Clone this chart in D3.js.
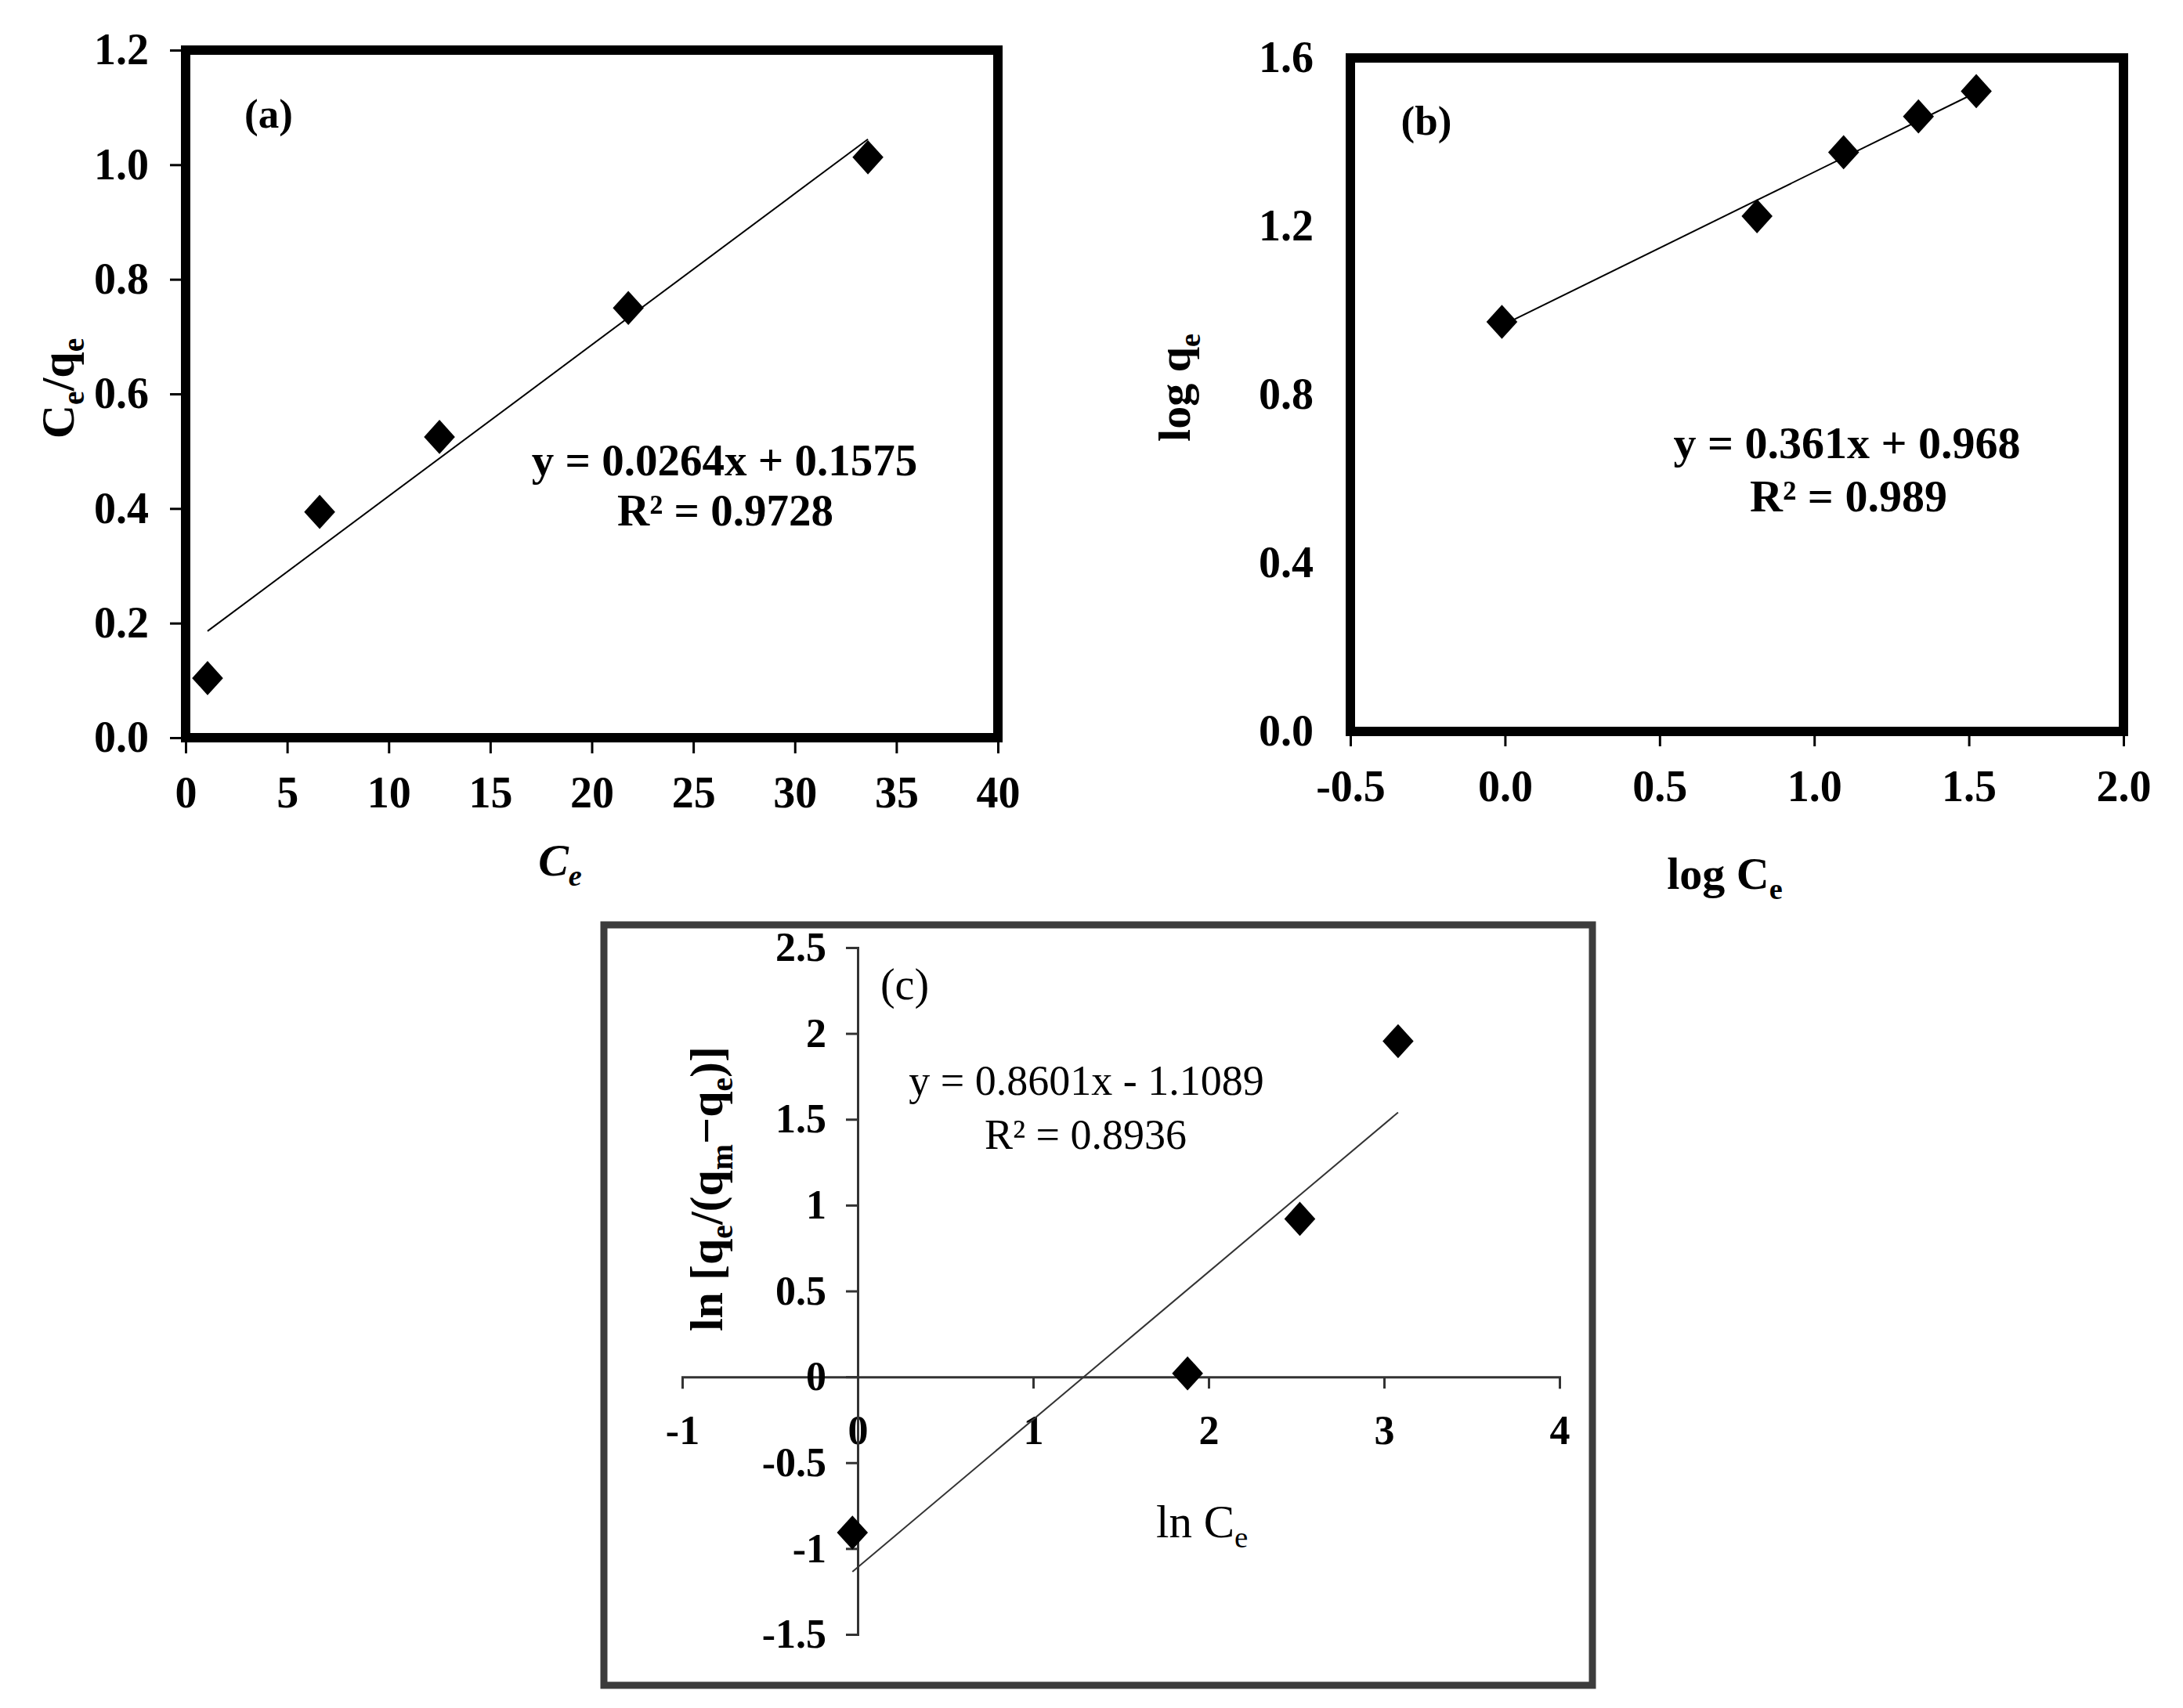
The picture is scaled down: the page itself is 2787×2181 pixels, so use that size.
<!DOCTYPE html>
<html>
<head>
<meta charset="utf-8">
<script src="https://cdn.jsdelivr.net/npm/d3@7"></script>
<style>
  body { margin: 0; background: #fff; }
</style>
</head>
<body>
<div class="chart"></div>
<script>
// (a) Langmuir plot: Ce vs Ce/qe
const ceA = [1.08, 6.6, 12.5, 21.8, 33.6];
const ceqeA = [0.104, 0.394, 0.525, 0.75, 1.013];
const fitA = {slope: 0.0264, intercept: 0.1575};
const eqA = ["y = 0.0264x + 0.1575", "R² = 0.9728"];
const xTicksA = [0, 5, 10, 15, 20, 25, 30, 35, 40];
const yTicksA = [0.0, 0.2, 0.4, 0.6, 0.8, 1.0, 1.2];

// (b) Freundlich plot: log Ce vs log qe
const logCeB = [-0.01, 0.815, 1.095, 1.337, 1.524];
const logQeB = [0.973, 1.224, 1.376, 1.461, 1.521];
const fitB = {slope: 0.361, intercept: 0.968};
const eqB = ["y = 0.361x + 0.968", "R² = 0.989"];
const xTicksB = [-0.5, 0.0, 0.5, 1.0, 1.5, 2.0];
const yTicksB = [0.0, 0.4, 0.8, 1.2, 1.6];

// (c) ln Ce vs ln[qe/(qm-qe)]
const lnCeC = [-0.03, 1.88, 2.52, 3.08];
const lnRatioC = [-0.907, 0.02, 0.92, 1.955];
const fitC = {slope: 0.8601, intercept: -1.1089};
const eqC = ["y = 0.8601x - 1.1089", "R² = 0.8936"];
const xTicksC = [-1, 0, 1, 2, 3, 4];
const yTicksC = [-1.5, -1, -0.5, 0, 0.5, 1, 1.5, 2, 2.5];

const W = 2787, H = 2181;
const serif = "'Liberation Serif', 'Times New Roman', serif";

const svg = d3.select('.chart').append('svg')
    .attr('width', W)
    .attr('height', H)
    .style('background', '#fff');

// diamond marker, a bit taller than wide like the original
const diamond = {
  draw(ctx, size) {
    const r = Math.sqrt(size) / 2;
    ctx.moveTo(0, -r * 1.06);
    ctx.lineTo(r * 0.96, 0);
    ctx.lineTo(0, r * 1.06);
    ctx.lineTo(-r * 0.96, 0);
    ctx.closePath();
  }
};

function styleAxis(g, size, weight, color) {
  g.attr('font-family', serif).attr('font-size', size).attr('font-weight', weight);
  g.selectAll('.tick text').attr('fill', '#000');
  g.selectAll('.tick line').attr('stroke', color).attr('stroke-width', 3);
}

function points(xs, ys, x, y, size) {
  svg.append('g').selectAll('path')
    .data(xs.map((d, i) => [d, ys[i]]))
    .enter()
    .append('path')
    .attr('d', d3.symbol().type(diamond).size(size))
    .attr('transform', d => `translate(${x(d[0])},${y(d[1])})`)
    .attr('fill', '#000');
}

function fitLine(xs, fit, x, y, color, w) {
  const ends = d3.extent(xs).map(v => [v, fit.slope * v + fit.intercept]);
  svg.append('path')
    .datum(ends)
    .attr('fill', 'none')
    .attr('stroke', color)
    .attr('stroke-width', w)
    .attr('d', d3.line().x(d => x(d[0])).y(d => y(d[1])));
}

// parts: strings, or {sub:'e'} for a subscript
function label(x, y, parts, opts) {
  const t = svg.append('text')
    .attr('x', x).attr('y', y)
    .attr('font-family', serif)
    .attr('font-size', opts.size)
    .attr('font-weight', opts.weight || 'bold')
    .attr('font-style', opts.italic ? 'italic' : 'normal')
    .attr('text-anchor', opts.anchor || 'middle');
  if (opts.rotate) t.attr('transform', `rotate(-90,${x},${y})`);
  const shift = opts.size * 0.22;
  let down = false;
  parts.forEach(p => {
    if (typeof p === 'string') {
      const s = t.append('tspan').text(p);
      if (down) { s.attr('dy', -shift); down = false; }
    } else {
      t.append('tspan').attr('font-size', opts.size * 0.66).attr('dy', down ? 0 : shift).text(p.sub);
      down = true;
    }
  });
  return t;
}

// ---------- panel (a) ----------
const xA = d3.scaleLinear().domain([0, 40]).range([237, 1274]);
const yA = d3.scaleLinear().domain([0, 1.2]).range([942, 64]);

svg.append('g')
  .attr('transform', `translate(0,${yA(0)})`)
  .call(d3.axisBottom(xA).tickValues(xTicksA).tickFormat(d3.format('d')).tickSize(20).tickPadding(29))
  .call(g => g.select('.domain').remove())
  .call(g => styleAxis(g, 56, 'bold', '#000'));

svg.append('g')
  .attr('transform', `translate(${xA(0)},0)`)
  .call(d3.axisLeft(yA).tickValues(yTicksA).tickFormat(d => d.toFixed(1)).tickSize(20).tickPadding(27))
  .call(g => g.select('.domain').remove())
  .call(g => styleAxis(g, 56, 'bold', '#000'));

fitLine(ceA, fitA, xA, yA, '#000', 2);
points(ceA, ceqeA, xA, yA, 1700);

svg.append('rect')
  .attr('x', xA(0)).attr('y', yA(1.2))
  .attr('width', xA(40) - xA(0)).attr('height', yA(0) - yA(1.2))
  .attr('fill', 'none').attr('stroke', '#000').attr('stroke-width', 12);

label(343, 163, ['(a)'], {size: 53});
label(925, 607, [eqA[0]], {size: 57});
label(926, 671, [eqA[1]], {size: 57});
label(94, 496, ['C', {sub: 'e'}, '/q', {sub: 'e'}], {size: 60, rotate: true});
label(715, 1118, ['C', {sub: 'e'}], {size: 58, italic: true});

// ---------- panel (b) ----------
const xB = d3.scaleLinear().domain([-0.5, 2.0]).range([1724, 2711]);
const yB = d3.scaleLinear().domain([0, 1.6]).range([934, 74]);

svg.append('g')
  .attr('transform', `translate(0,${yB(0)})`)
  .call(d3.axisBottom(xB).tickValues(xTicksB).tickFormat(d => d.toFixed(1)).tickSize(19).tickPadding(30))
  .call(g => g.select('.domain').remove())
  .call(g => styleAxis(g, 56, 'bold', '#000'));

svg.append('g')
  .attr('transform', `translate(${xB(-0.5)},0)`)
  .call(d3.axisLeft(yB).tickValues(yTicksB).tickFormat(d => d.toFixed(1)).tickSize(0).tickPadding(47))
  .call(g => g.select('.domain').remove())
  .call(g => styleAxis(g, 56, 'bold', '#000'));

fitLine(logCeB, fitB, xB, yB, '#000', 2);
points(logCeB, logQeB, xB, yB, 1700);

svg.append('rect')
  .attr('x', xB(-0.5)).attr('y', yB(1.6))
  .attr('width', xB(2) - xB(-0.5)).attr('height', yB(0) - yB(1.6))
  .attr('fill', 'none').attr('stroke', '#000').attr('stroke-width', 12);

label(1821, 172, ['(b)'], {size: 53});
label(2358, 585, [eqB[0]], {size: 58});
label(2360, 653, [eqB[1]], {size: 58});
label(1519, 495, ['log q', {sub: 'e'}], {size: 58, rotate: true});
label(2202, 1135, ['log C', {sub: 'e'}], {size: 58});

// ---------- panel (c) ----------
svg.append('rect')
  .attr('x', 771).attr('y', 1181)
  .attr('width', 2033 - 771).attr('height', 2152 - 1181)
  .attr('fill', 'none').attr('stroke', '#3c3c3c').attr('stroke-width', 9);

const xC = d3.scaleLinear().domain([-1, 4]).range([871, 1991]);
const yC = d3.scaleLinear().domain([-1.5, 2.5]).range([2087, 1210]);

svg.append('g')
  .attr('transform', `translate(0,${yC(0)})`)
  .call(d3.axisBottom(xC).tickValues(xTicksC).tickFormat(d => String(d)).tickSize(15).tickSizeOuter(15).tickPadding(34))
  .call(g => g.select('.domain').attr('stroke', '#333').attr('stroke-width', 3))
  .call(g => styleAxis(g, 52, 'bold', '#333'));

svg.append('g')
  .attr('transform', `translate(${xC(0)},0)`)
  .call(d3.axisLeft(yC).tickValues(yTicksC).tickFormat(d => String(d)).tickSize(15).tickSizeOuter(15).tickPadding(25))
  .call(g => g.select('.domain').attr('stroke', '#333').attr('stroke-width', 3))
  .call(g => styleAxis(g, 52, 'bold', '#333'));

fitLine(lnCeC, fitC, xC, yC, '#333', 2);
points(lnCeC, lnRatioC, xC, yC, 1700);

label(1155, 1276, ['(c)'], {size: 56, weight: 'normal'});
label(1387, 1398, [eqC[0]], {size: 54, weight: 'normal'});
label(1386, 1467, [eqC[1]], {size: 54, weight: 'normal'});
label(1476, 1963, ['ln C', {sub: 'e'}], {size: 59, weight: 'normal', anchor: 'start'});
label(922, 1518, ['ln  [q', {sub: 'e'}, '/(q', {sub: 'm'}, '\u2212q', {sub: 'e'}, ')]'], {size: 60, rotate: true});
</script>
</body>
</html>
